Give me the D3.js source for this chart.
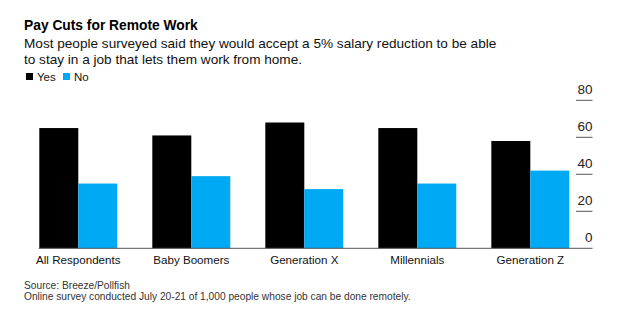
<!DOCTYPE html>
<html>
<head>
<meta charset="utf-8">
<script src="https://cdnjs.cloudflare.com/ajax/libs/d3/7.8.5/d3.min.js"></script>
<style>
  body { margin: 0; background: #fff; }
  svg { display: block; font-family: "Liberation Sans", Arial, sans-serif; }
</style>
</head>
<body>
<div id="chart"></div>
<script>
const categories = ['All Respondents', 'Baby Boomers', 'Generation X', 'Millennials', 'Generation Z'];
const series = ['Yes', 'No'];
const yesValues = [65, 61, 68, 65, 58];
const noValues = [35, 39, 32, 35, 42];
const yTicks = [0, 20, 40, 60, 80];

const colors = { Yes: '#000000', No: '#00a9f4' };

const width = 636, height = 319;

let svg = d3.select('#chart').append('svg').attr('width', width).attr('height', height);

// header
svg.append('text').attr('x', 24).attr('y', 30)
  .attr('font-size', 13.8).attr('font-weight', 'bold').attr('fill', '#000')
  .text('Pay Cuts for Remote Work');
svg.append('text').attr('x', 24).attr('y', 48)
  .attr('font-size', 13.6).attr('fill', '#111')
  .text('Most people surveyed said they would accept a 5% salary reduction to be able');
svg.append('text').attr('x', 24).attr('y', 63.5)
  .attr('font-size', 13.6).attr('fill', '#111')
  .text('to stay in a job that lets them work from home.');

// legend
let legend = svg.append('g').attr('transform', 'translate(26, 72)');
let legendX = { Yes: 0, No: 37 };
series.forEach(s => {
  let g = legend.append('g').attr('transform', 'translate(' + legendX[s] + ',0)');
  g.append('rect').attr('width', 7).attr('height', 7).attr('y', 1).attr('fill', colors[s]);
  g.append('text').attr('x', 11).attr('y', 8.5).attr('font-size', 11.5).attr('fill', '#111').text(s);
});

// scales
let y = d3.scaleLinear().domain([0, 80]).range([248.3, 100.3]);
let x0 = d3.scaleBand().domain(categories).range([39.3, 569.3]).paddingInner(0.31).paddingOuter(0);
let x1 = d3.scaleBand().domain(series).range([0, x0.bandwidth()]);

let rows = categories.map((c, i) => ({ category: c, Yes: yesValues[i], No: noValues[i] }));

let groups = svg.append('g').selectAll('g.group').data(rows).enter()
  .append('g').attr('class', 'group')
  .attr('transform', d => 'translate(' + x0(d.category) + ',0)');

groups.selectAll('rect').data(d => series.map(s => ({ key: s, value: d[s] }))).enter()
  .append('rect')
  .attr('x', d => x1(d.key))
  .attr('y', d => y(d.value))
  .attr('width', x1.bandwidth())
  .attr('height', d => y(0) - y(d.value))
  .attr('fill', d => colors[d.key]);

// baseline
svg.append('line')
  .attr('x1', 38.7).attr('x2', 592.5)
  .attr('y1', y(0)).attr('y2', y(0))
  .attr('stroke', '#555').attr('stroke-width', 1);

// right axis: labels over short tick lines
let axis = svg.append('g').attr('class', 'y-axis');
axis.selectAll('line').data(yTicks.filter(t => t > 0)).enter()
  .append('line')
  .attr('x1', 576).attr('x2', 592.5)
  .attr('y1', d => y(d)).attr('y2', d => y(d))
  .attr('stroke', '#555').attr('stroke-width', 1);
axis.selectAll('text').data(yTicks).enter()
  .append('text')
  .attr('x', 592.5).attr('y', d => y(d) - 6.5)
  .attr('text-anchor', 'end').attr('font-size', 13.5).attr('fill', '#222')
  .text(d => d);

// category labels
svg.append('g').selectAll('text').data(categories).enter()
  .append('text')
  .attr('x', d => x0(d) + x0.bandwidth() / 2)
  .attr('y', 264)
  .attr('text-anchor', 'middle').attr('font-size', 11.6).attr('fill', '#111')
  .text(d => d);

// footer
svg.append('text').attr('x', 24).attr('y', 289)
  .attr('font-size', 10.2).attr('fill', '#333')
  .text('Source: Breeze/Pollfish');
svg.append('text').attr('x', 24).attr('y', 299.5)
  .attr('font-size', 10.2).attr('fill', '#333')
  .text('Online survey conducted July 20-21 of 1,000 people whose job can be done remotely.');
</script>
</body>
</html>
